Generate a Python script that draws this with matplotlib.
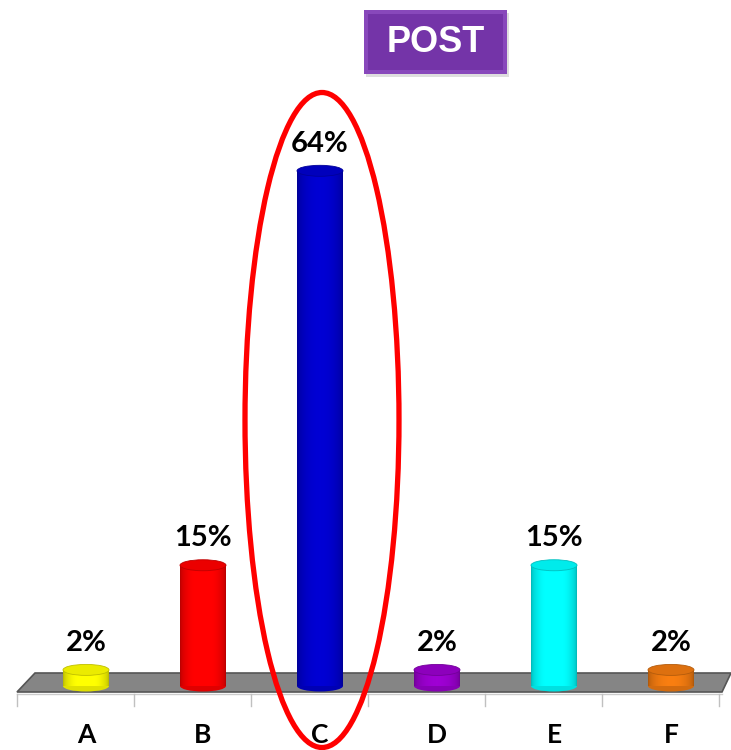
import numpy as np
from matplotlib import pyplot as plt
from matplotlib.patches import Ellipse, Polygon, Rectangle
from matplotlib.colors import to_rgb

# chart data
categories = ['A', 'B', 'C', 'D', 'E', 'F']
values = [2, 15, 64, 2, 15, 2]
bar_colors = ['#FFFF00', '#FF0000', '#0000CC', '#9900CC', '#00FFFF', '#F07A10']
title = 'POST'

# canvas geometry (pixels of the 731x750 picture)
W, H = 731, 750
X0, DX = 86, 117        # centre of first bar, spacing between bars
Y0, DY = 686, 8.05      # baseline, pixels per percent


def px(x, y):
    """pixel position -> data position"""
    return (x - X0) / DX, (Y0 - y) / DY


fig = plt.figure(figsize=(W / 100, H / 100), dpi=100)
ax = fig.add_axes([0, 0, 1, 1])
x0, y1 = px(0, 0)
x1, y0 = px(W, H)
ax.set_xlim(x0, x1)
ax.set_ylim(y0, y1)
ax.axis('off')

# grey floor plate
floor = Polygon([px(35, 673), px(731, 673), px(722, 692), px(17, 692)],
                closed=True, facecolor='#858585', edgecolor='#555555', lw=1.2, zorder=1)
ax.add_patch(floor)
ax.plot([px(17, 0)[0], px(722, 0)[0]], [px(0, 694)[1]] * 2, color='#cccccc', lw=1, zorder=1)
for k in range(len(categories) + 1):
    tx = px(17 + DX * k, 0)[0]
    ax.plot([tx, tx], [px(0, 694)[1], px(0, 706)[1]], color='#c0c0c0', lw=1, zorder=1)

# cylinder bars
bw = 46 / DX
cap_h = 11 / DY
t = np.linspace(0, 1, 64)
shade = 0.72 + 0.32 * np.sin(np.pi * t) ** 0.5
xs = np.arange(len(categories))
bars = ax.bar(xs, values, width=bw, color='none', edgecolor='none', zorder=3)
for b, v, c in zip(bars, values, bar_colors):
    rgb = np.array(to_rgb(c))
    img = np.clip(rgb[None, None, :] * shade[None, :, None], 0, 1)
    bx = b.get_x()
    im = ax.imshow(img, extent=(bx, bx + bw, 0, v), aspect='auto', zorder=3,
                   interpolation='bilinear')
    im.set_clip_path(Rectangle((bx, 0), bw, v, transform=ax.transData))
    # rounded bottom
    ax.add_patch(Ellipse((bx + bw / 2, 0), bw, cap_h, facecolor=rgb * 0.88,
                         edgecolor='none', zorder=2.9))
    # top cap
    ax.add_patch(Ellipse((bx + bw / 2, v), bw, cap_h, facecolor=rgb * 0.92,
                         edgecolor=rgb * 0.75, lw=0.6, zorder=4))
    ax.text(bx + bw / 2, v + 27 / DY, f'{v}%', ha='center', va='center',
            fontsize=21, fontweight='bold', family=['Lato', 'DejaVu Sans'], zorder=5)

# category labels
for i, cat in enumerate(categories):
    ax.text(i, px(0, 735)[1], cat, ha='center', va='center', fontsize=19,
            fontweight='bold', family=['Lato', 'DejaVu Sans'])

# highlight ellipse around C
cx, cy = px(322, 420)
ax.add_patch(Ellipse((cx, cy), 154 / DX, 655 / DY, facecolor='none', edgecolor='#FF0000',
                     lw=3.8, zorder=6, clip_on=False))

# POST badge (figure coordinates)
bx0, by0, bwid, bhei = 364 / W, 1 - 74 / H, 143 / W, 64 / H
fig.patches.append(Rectangle((bx0 + 2 / W, by0 - 3 / H), bwid, bhei, transform=fig.transFigure,
                             facecolor='#c8c8c8', edgecolor='none', alpha=0.6, zorder=1))
fig.patches.append(Rectangle((bx0, by0), bwid, bhei, transform=fig.transFigure,
                             facecolor='#8848bb', edgecolor='none', zorder=2))
fig.patches.append(Rectangle((bx0 + 4 / W, by0 + 4 / H), bwid - 8 / W, bhei - 8 / H,
                             transform=fig.transFigure, facecolor='#7434a8', edgecolor='none', zorder=3))
fig.text(bx0 + bwid / 2, by0 + bhei / 2, title, ha='center', va='center', color='white',
         fontsize=26, fontweight='bold', family=['Liberation Sans', 'DejaVu Sans'], zorder=4)

fig.savefig('out.png', dpi=100)
